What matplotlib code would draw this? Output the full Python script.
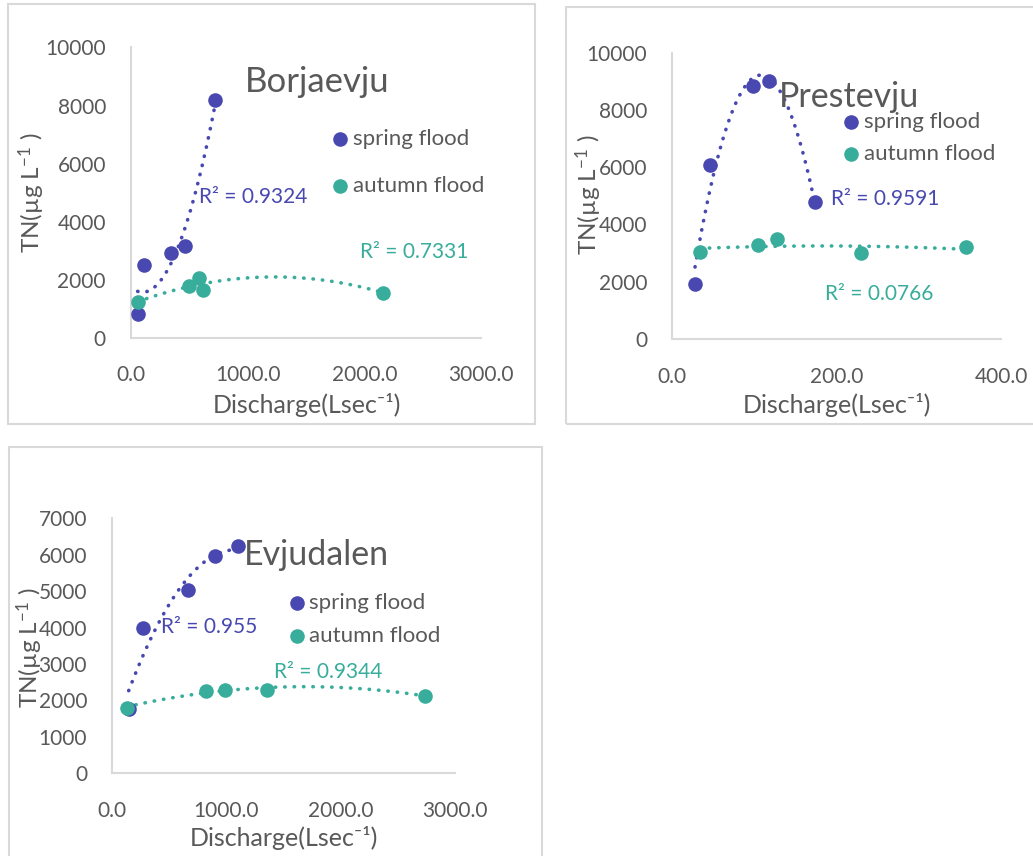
import numpy as np
import matplotlib
matplotlib.use("Agg")
import matplotlib.pyplot as plt
from matplotlib.lines import Line2D
from matplotlib.patches import Rectangle

plt.rcParams['font.family'] = ['Lato', 'DejaVu Sans']
plt.rcParams['mathtext.fontset'] = 'custom'
plt.rcParams['mathtext.rm'] = 'Lato'
plt.rcParams['mathtext.it'] = 'Lato:italic'

# ---------------- data ----------------
bor_spring_x = [57, 111, 343, 466, 720]
bor_spring_y = [804, 2491, 2905, 3169, 8186]
bor_autumn_x = [57, 494, 586, 614, 2163]
bor_autumn_y = [1228, 1780, 2044, 1642, 1550]
bor_r2 = ["R² = 0.9324", "R² = 0.7331"]

pre_spring_x = [28, 46, 99, 118, 174]
pre_spring_y = [1921, 6077, 8836, 9022, 4796]
pre_autumn_x = [34, 105, 128, 230, 357]
pre_autumn_y = [3050, 3271, 3492, 2992, 3201]
pre_r2 = ["R² = 0.9591", "R² = 0.0766"]

evj_spring_x = [146, 271, 668, 898, 1099]
evj_spring_y = [1757, 3999, 5042, 5957, 6241]
evj_autumn_x = [128, 822, 985, 1353, 2738]
evj_autumn_y = [1803, 2269, 2288, 2288, 2132]
evj_r2 = ["R² = 0.955", "R² = 0.9344"]

series_labels = ["spring flood", "autumn flood"]
x_label = "Discharge(Lsec\u207b\u00b9)"
y_label = "TN(µg L$^{-1}$ )"

SPRING = "#4848B0"
AUTUMN = "#38AD9B"
GRAY = "#595959"
LIGHT = "#D9D9D9"

W, H = 1033, 856
fig = plt.figure(figsize=(W / 100, H / 100), dpi=100)


def fx(px):
    return px / W


def fy(py):
    return 1 - py / H


# panel borders
for (x0, y0, x1, y1) in [(8, 4, 535, 424), (566, 7, 1040, 424), (9, 447, 542, 870)]:
    fig.add_artist(Rectangle((fx(x0), fy(y1)), fx(x1 - x0), (y1 - y0) / H,
                             transform=fig.transFigure, fill=False,
                             edgecolor=LIGHT, lw=1.5, clip_on=False))


def make_panel(rect, xlim, ylim, xticks, yticks, sx, sy, ax_, ay_):
    x0, x1, yt, yb = rect
    ax = fig.add_axes([fx(x0), fy(yb), fx(x1 - x0), (yb - yt) / H])
    ax.set_xlim(*xlim)
    ax.set_ylim(*ylim)
    ax.set_xticks(xticks)
    ax.set_xticklabels([f"{t:.1f}" for t in xticks])
    ax.set_yticks(yticks)
    ax.set_yticklabels([f"{t}" for t in yticks])
    for s in ['top', 'right']:
        ax.spines[s].set_visible(False)
    for s in ['left', 'bottom']:
        ax.spines[s].set_color(LIGHT)
        ax.spines[s].set_linewidth(1.5)
    ax.tick_params(length=0, labelsize=15, labelcolor=GRAY)
    ax.tick_params(axis='x', pad=20)
    ax.tick_params(axis='y', pad=18)
    ax.patch.set_alpha(0)
    for (xs, ys, c) in [(sx, sy, SPRING), (ax_, ay_, AUTUMN)]:
        coef = np.polyfit(xs, ys, 2)
        xx = np.linspace(min(xs), max(xs), 200)
        ax.plot(xx, np.polyval(coef, xx), color=c, lw=2.6,
                linestyle=(0, (0.1, 2.5)), dash_capstyle='round', zorder=2)
    ax.scatter(sx, sy, s=110, color=SPRING, zorder=3, linewidths=0)
    ax.scatter(ax_, ay_, s=110, color=AUTUMN, zorder=3, linewidths=0)
    return ax


def legend(xm, y1, y2, xt):
    for y, c, lab in [(y1, SPRING, series_labels[0]), (y2, AUTUMN, series_labels[1])]:
        fig.add_artist(Line2D([fx(xm)], [fy(y)], marker='o', markersize=10.5,
                              color=c, markeredgewidth=0, transform=fig.transFigure))
        fig.text(fx(xt), fy(y), lab, color=GRAY, fontsize=16, va='center', ha='left')


def labels(xl_x, xl_y, yl_x, yl_y):
    fig.text(fx(xl_x), fy(xl_y), x_label, color=GRAY, fontsize=18,
             ha='center', va='center')
    fig.text(fx(yl_x), fy(yl_y), y_label, color=GRAY, fontsize=17.5,
             ha='center', va='center', rotation=90)


# Panel 1: Borjaevju
make_panel((131, 481, 47.5, 337.7), (0, 3000), (0, 10000), [0, 1000, 2000, 3000],
           [0, 2000, 4000, 6000, 8000, 10000],
           bor_spring_x, bor_spring_y, bor_autumn_x, bor_autumn_y)
fig.text(fx(245), fy(82), "Borjaevju", color=GRAY, fontsize=25, ha='left', va='center')
legend(340, 139, 186, 353)
fig.text(fx(199), fy(197), bor_r2[0], color=SPRING, fontsize=15, ha='left', va='center')
fig.text(fx(360), fy(252), bor_r2[1], color=AUTUMN, fontsize=15, ha='left', va='center')
labels(307, 405, 32, 193)

# Panel 2: Prestevju
make_panel((672, 1001, 52.7, 339), (0, 400), (0, 10000), [0, 200, 400],
           [0, 2000, 4000, 6000, 8000, 10000],
           pre_spring_x, pre_spring_y, pre_autumn_x, pre_autumn_y)
fig.text(fx(779), fy(97), "Prestevju", color=GRAY, fontsize=24.5, ha='left', va='center')
legend(851, 122, 154, 864)
fig.text(fx(831), fy(199), pre_r2[0], color=SPRING, fontsize=15, ha='left', va='center')
fig.text(fx(825), fy(294), pre_r2[1], color=AUTUMN, fontsize=15, ha='left', va='center')
labels(837, 405, 589, 195)

# Panel 3: Evjudalen
make_panel((112, 455, 518.3, 773.3), (0, 3000), (0, 7000), [0, 1000, 2000, 3000],
           [0, 1000, 2000, 3000, 4000, 5000, 6000, 7000],
           evj_spring_x, evj_spring_y, evj_autumn_x, evj_autumn_y)
fig.text(fx(244), fy(555), "Evjudalen", color=GRAY, fontsize=24.5, ha='left', va='center')
legend(297, 603, 636, 309)
fig.text(fx(161), fy(627), evj_r2[0], color=SPRING, fontsize=15, ha='left', va='center')
fig.text(fx(274), fy(672), evj_r2[1], color=AUTUMN, fontsize=15, ha='left', va='center')
labels(284, 838, 30, 648)

fig.savefig("out.png", dpi=100)
